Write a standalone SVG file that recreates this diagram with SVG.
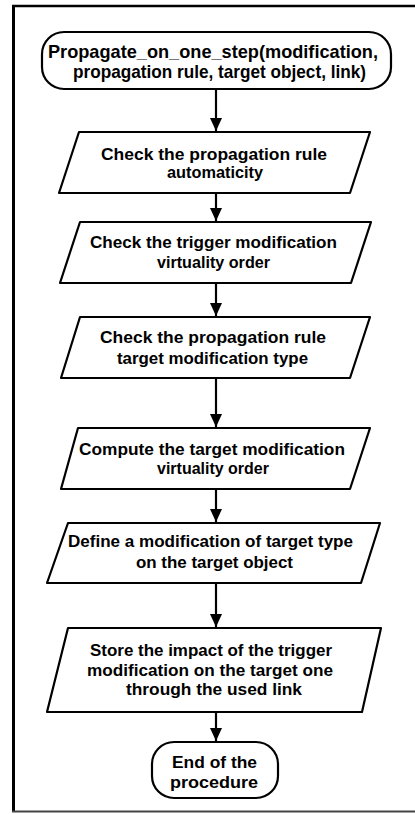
<svg xmlns="http://www.w3.org/2000/svg" width="415" height="814" viewBox="0 0 415 814">
<defs>
<style>
.shape{fill:#fff;stroke:#000;stroke-width:2.2;stroke-linejoin:round}
.t{font-family:"Liberation Sans",Arial,sans-serif;font-weight:bold;fill:#000;text-anchor:middle}
.f17{font-size:17px}
.f19{font-size:19px}
.conn{stroke:#000;stroke-width:2.2;fill:none}
</style>
<marker id="arr" markerWidth="12" markerHeight="13" refX="6" refY="13" orient="auto" markerUnits="userSpaceOnUse" viewBox="0 0 12 13">
<path d="M0,0 L12,0 L6,13 Z" fill="#000"/>
</marker>
</defs>
<rect width="415" height="814" fill="#fff"/>
<g id="frame">
<line x1="13.5" y1="5" x2="13.5" y2="812" stroke="#000" stroke-width="3"/>
<line x1="12" y1="6" x2="415" y2="6" stroke="#000" stroke-width="2.5"/>
<line x1="12" y1="811.5" x2="415" y2="811.5" stroke="#444" stroke-width="2"/>
</g>
<g id="connectors">
<line class="conn" x1="216" y1="89" x2="216" y2="131"/>
<path d="M210,118 L222,118 L216,131 Z" fill="#000"/>
<line class="conn" x1="216" y1="193" x2="216" y2="221"/>
<path d="M210,208 L222,208 L216,221 Z" fill="#000"/>
<line class="conn" x1="216" y1="283" x2="216" y2="316"/>
<path d="M210,303 L222,303 L216,316 Z" fill="#000"/>
<line class="conn" x1="216" y1="378" x2="216" y2="427"/>
<path d="M210,414 L222,414 L216,427 Z" fill="#000"/>
<line class="conn" x1="216" y1="489" x2="216" y2="522"/>
<path d="M210,509 L222,509 L216,522 Z" fill="#000"/>
<line class="conn" x1="216" y1="583" x2="216" y2="627"/>
<path d="M210,614 L222,614 L216,627 Z" fill="#000"/>
<line class="conn" x1="216" y1="712" x2="216" y2="741"/>
<path d="M210,728 L222,728 L216,741 Z" fill="#000"/>
</g>
<g id="start">
<rect class="shape" x="42" y="32" width="349" height="57" rx="22" ry="22"/>
<text class="t f19" x="213" y="58" textLength="330" lengthAdjust="spacingAndGlyphs">Propagate_on_one_step(modification,</text>
<text class="t f19" x="219.5" y="78" textLength="293" lengthAdjust="spacingAndGlyphs">propagation rule, target object, link)</text>
</g>
<g id="p1">
<polygon class="shape" points="79,132 370,132 350,193 59,193"/>
<text class="t f17" x="214" y="159.5" textLength="226" lengthAdjust="spacingAndGlyphs">Check the propagation rule</text>
<text class="t f17" x="215" y="177.5" textLength="96" lengthAdjust="spacingAndGlyphs">automaticity</text>
</g>
<g id="p2">
<polygon class="shape" points="80,222 371,222 351,283 60,283"/>
<text class="t f17" x="213.5" y="248" textLength="247" lengthAdjust="spacingAndGlyphs">Check the trigger modification</text>
<text class="t f17" x="213.5" y="268" textLength="113" lengthAdjust="spacingAndGlyphs">virtuality order</text>
</g>
<g id="p3">
<polygon class="shape" points="80,317 370,317 350,378 61,378"/>
<text class="t f17" x="213" y="343" textLength="226" lengthAdjust="spacingAndGlyphs">Check the propagation rule</text>
<text class="t f17" x="212.5" y="364" textLength="191" lengthAdjust="spacingAndGlyphs">target modification type</text>
</g>
<g id="p4">
<polygon class="shape" points="78,428 370,428 350,489 61,489"/>
<text class="t f17" x="212" y="455" textLength="266" lengthAdjust="spacingAndGlyphs">Compute the target modification</text>
<text class="t f17" x="213" y="474" textLength="112" lengthAdjust="spacingAndGlyphs">virtuality order</text>
</g>
<g id="p5">
<polygon class="shape" points="68,523 380,523 361,583 47,583"/>
<text class="t f17" x="210.5" y="547" textLength="285" lengthAdjust="spacingAndGlyphs">Define a modification of target type</text>
<text class="t f17" x="214.5" y="568" textLength="157" lengthAdjust="spacingAndGlyphs">on the target object</text>
</g>
<g id="p6">
<polygon class="shape" points="68,628 381,628 362,712 47,712"/>
<text class="t f17" x="211" y="656" textLength="242" lengthAdjust="spacingAndGlyphs">Store the impact of the trigger</text>
<text class="t f17" x="210" y="675.5" textLength="246" lengthAdjust="spacingAndGlyphs">modification on the target one</text>
<text class="t f17" x="214" y="695" textLength="176" lengthAdjust="spacingAndGlyphs">through the used link</text>
</g>
<g id="end">
<rect class="shape" x="152" y="742" width="126" height="56" rx="22" ry="22"/>
<text class="t f17" x="214.5" y="768" textLength="85" lengthAdjust="spacingAndGlyphs">End of the</text>
<text class="t f17" x="214" y="787.5" textLength="88" lengthAdjust="spacingAndGlyphs">procedure</text>
</g>
</svg>
